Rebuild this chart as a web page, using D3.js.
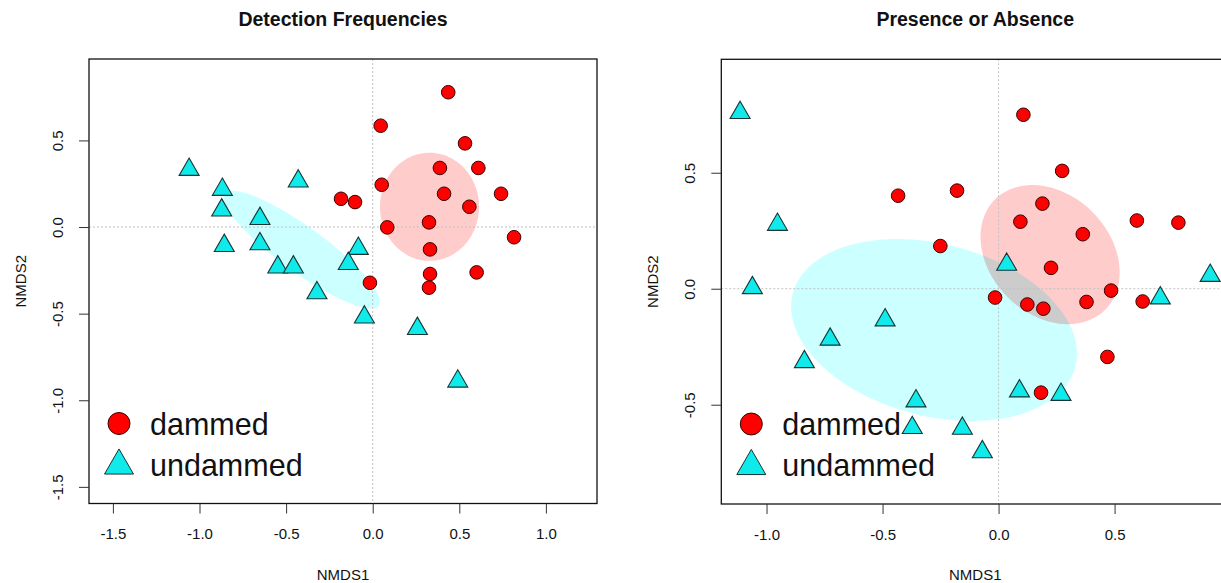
<!DOCTYPE html>
<html>
    <head>
        <meta charset="utf-8">
        <script src="https://d3js.org/d3.v7.min.js"></script>
        <style>
            body {
                margin: 0;
                background: white;
            }
            text {
                font-family: "Liberation Sans", Arial, sans-serif;
                fill: #111;
            }
        </style>
    </head>
    <body>
    </body>
    <script>

        const width = 1221;
        const height = 583;

        // Detection Frequencies (NMDS1, NMDS2)
        var detDammed = [
            [0.436, 0.778], [0.046, 0.585], [0.533, 0.483], [0.388, 0.341], [0.610, 0.341],
            [0.052, 0.244], [0.412, 0.192], [0.741, 0.192], [0.558, 0.117], [-0.183, 0.163],
            [-0.102, 0.144], [0.084, -0.002], [0.325, 0.027], [0.816, -0.059], [0.331, -0.129],
            [0.331, -0.271], [0.325, -0.350], [0.600, -0.262], [-0.016, -0.322]
        ];
        var detUndammed = [
            [-1.060, 0.348], [-0.868, 0.233], [-0.872, 0.114], [-0.430, 0.281], [-0.651, 0.065],
            [-0.857, -0.091], [-0.651, -0.081], [-0.548, -0.215], [-0.458, -0.215], [-0.083, -0.108],
            [-0.141, -0.195], [-0.322, -0.364], [-0.048, -0.504], [0.258, -0.570], [0.491, -0.874]
        ];

        // Presence or Absence (NMDS1, NMDS2)
        var paDammed = [
            [-0.433, 0.401], [-0.179, 0.423], [-0.251, 0.184], [0.107, 0.750], [0.274, 0.508],
            [0.189, 0.367], [0.094, 0.289], [0.363, 0.235], [0.596, 0.294], [0.775, 0.285],
            [0.226, 0.090], [0.485, -0.008], [-0.015, -0.038], [0.124, -0.068], [0.193, -0.086],
            [0.379, -0.057], [0.621, -0.055], [0.469, -0.294], [0.183, -0.448]
        ];
        var paUndammed = [
            [-1.114, 0.771], [-0.953, 0.289], [-1.061, 0.016], [0.035, 0.117], [0.912, 0.069],
            [0.697, -0.028], [0.090, -0.429], [0.269, -0.444], [-0.156, -0.590], [-0.070, -0.691],
            [-0.489, -0.123], [-0.726, -0.206], [-0.837, -0.303], [-0.356, -0.472], [-0.372, -0.587]
        ];

        // ellipses: [cx, cy, semi axis a, semi axis b, angle in degrees]
        var detEllipseDammed = [0.328, 0.117, 0.286, 0.312, 0];
        var detEllipseUndammed = [-0.410, -0.130, 0.550, 0.130, -36];
        var paEllipseDammed = [0.222, 0.147, 0.336, 0.259, -45];
        var paEllipseUndammed = [-0.278, -0.178, 0.629, 0.371, -14.5];

        var detXTicks = [-1.5, -1.0, -0.5, 0.0, 0.5, 1.0];
        var detYTicks = [-1.5, -1.0, -0.5, 0.0, 0.5];
        var paXTicks = [-1.0, -0.5, 0.0, 0.5];
        var paYTicks = [-0.5, 0.0, 0.5];

        var groups = ['dammed', 'undammed'];

        var svg = d3.select('body')
            .append('svg')
            .attr('width', width)
            .attr('height', height);

        // R style labels, plain hyphen minus
        var fmt = d => d.toFixed(1);

        function triPath(s) {
            var h = s * Math.sqrt(3) / 2;
            return 'M0,' + (-h / 2) + 'L' + (s / 2) + ',' + (h / 2) + 'L' + (-s / 2) + ',' + (h / 2) + 'Z';
        }

        function ellipsePoints(e) {
            var pts = [];
            var th = e[4] * Math.PI / 180;
            for (let i = 0; i <= 120; i++) {
                let t = i / 120 * 2 * Math.PI;
                pts.push([
                    e[0] + e[2] * Math.cos(th) * Math.cos(t) - e[3] * Math.sin(th) * Math.sin(t),
                    e[1] + e[2] * Math.sin(th) * Math.cos(t) + e[3] * Math.cos(th) * Math.sin(t)
                ]);
            }
            return pts;
        }

        function drawPanel(p) {
            var x = d3.scaleLinear().domain(p.xDomain).range([p.left, p.right]);
            var y = d3.scaleLinear().domain(p.yDomain).range([p.bottom, p.top]);
            var g = svg.append('g');

            g.append('defs').append('clipPath').attr('id', p.id)
                .append('rect')
                .attr('x', p.left).attr('y', p.top)
                .attr('width', p.right - p.left).attr('height', p.bottom - p.top);

            var plot = g.append('g').attr('clip-path', 'url(#' + p.id + ')');
            var line = d3.line().x(d => x(d[0])).y(d => y(d[1])).curve(d3.curveLinearClosed);

            plot.append('path')
                .attr('d', line(ellipsePoints(p.ellUndammed)))
                .attr('fill', '#ccffff');
            plot.append('path')
                .attr('d', line(ellipsePoints(p.ellDammed)))
                .attr('fill', '#ffcccc')
                .style('mix-blend-mode', 'multiply');

            // dotted zero lines
            plot.append('line')
                .attr('x1', x(0)).attr('x2', x(0))
                .attr('y1', p.top).attr('y2', p.bottom)
                .style('stroke', '#c0c0c0').style('stroke-dasharray', '2,2');
            plot.append('line')
                .attr('x1', p.left).attr('x2', p.right)
                .attr('y1', y(0)).attr('y2', y(0))
                .style('stroke', '#c0c0c0').style('stroke-dasharray', '2,2');

            plot.selectAll('path.tri')
                .data(p.undammed)
                .enter()
                .append('path')
                .attr('class', 'tri')
                .attr('d', triPath(20))
                .attr('transform', d => 'translate(' + x(d[0]) + ',' + y(d[1]) + ')')
                .attr('fill', '#11eaea')
                .attr('stroke', '#183434')
                .attr('stroke-width', 1.1);

            plot.selectAll('circle')
                .data(p.dammed)
                .enter()
                .append('circle')
                .attr('cx', d => x(d[0]))
                .attr('cy', d => y(d[1]))
                .attr('r', 6.8)
                .attr('fill', '#ff0000')
                .attr('stroke', '#3a0000')
                .attr('stroke-width', 1);

            // box
            g.append('rect')
                .attr('x', p.left).attr('y', p.top)
                .attr('width', p.right - p.left).attr('height', p.bottom - p.top)
                .attr('fill', 'none')
                .attr('stroke', '#111')
                .attr('stroke-width', 1.3);

            // axes
            var xAxis = g.append('g')
                .attr('transform', 'translate(0,' + p.bottom + ')')
                .call(d3.axisBottom(x).tickValues(p.xTicks).tickSize(10).tickPadding(15).tickFormat(fmt));
            xAxis.select('.domain').remove();
            xAxis.selectAll('line').attr('stroke', '#333');
            xAxis.selectAll('text').style('font-size', '15px').attr('fill', '#222');

            var yAxis = g.append('g')
                .attr('transform', 'translate(' + p.left + ',0)')
                .call(d3.axisLeft(y).tickValues(p.yTicks).tickSize(10).tickFormat(fmt));
            yAxis.select('.domain').remove();
            yAxis.selectAll('line').attr('stroke', '#333');
            yAxis.selectAll('text')
                .style('font-size', '15px')
                .attr('fill', '#222')
                .attr('x', 0).attr('dy', 0)
                .attr('text-anchor', 'middle')
                .attr('transform', 'translate(-26,0) rotate(-90)');

            // titles
            var cx = (p.left + p.right) / 2;
            g.append('text')
                .attr('x', cx).attr('y', 26)
                .attr('text-anchor', 'middle')
                .style('font-weight', 'bold')
                .style('font-size', '19.5px')
                .text(p.title);
            g.append('text')
                .attr('x', cx).attr('y', 580)
                .attr('text-anchor', 'middle')
                .style('font-size', '15px')
                .attr('fill', '#222')
                .text('NMDS1');
            g.append('text')
                .attr('transform', 'translate(' + (p.left - 63) + ',' + ((p.top + p.bottom) / 2) + ') rotate(-90)')
                .attr('text-anchor', 'middle')
                .style('font-size', '15px')
                .attr('fill', '#222')
                .text('NMDS2');

            // legend
            var lg = g.append('g');
            var lx = p.left + 30;
            lg.append('circle')
                .attr('cx', lx).attr('cy', p.bottom - 80)
                .attr('r', 11)
                .attr('fill', '#ff0000')
                .attr('stroke', '#3a0000');
            lg.append('path')
                .attr('d', triPath(29))
                .attr('transform', 'translate(' + lx + ',' + (p.bottom - 42) + ')')
                .attr('fill', '#11eaea')
                .attr('stroke', '#183434');
            lg.selectAll('text.leg')
                .data(groups)
                .enter()
                .append('text')
                .attr('class', 'leg')
                .attr('x', lx + 31)
                .attr('y', (d, i) => p.bottom - 69 + i * 41)
                .style('font-size', '30.5px')
                .text(d => d);
        }

        drawPanel({
            id: 'clipDet',
            title: 'Detection Frequencies',
            left: 89, right: 597, top: 59, bottom: 503.5,
            xDomain: [-1.638, 1.295], yDomain: [-1.596, 0.970],
            xTicks: detXTicks, yTicks: detYTicks,
            dammed: detDammed, undammed: detUndammed,
            ellDammed: detEllipseDammed, ellUndammed: detEllipseUndammed
        });

        drawPanel({
            id: 'clipPa',
            title: 'Presence or Absence',
            left: 721.3, right: 1229.2, top: 59.3, bottom: 504,
            xDomain: [-1.195, 0.994], yDomain: [-0.928, 0.989],
            xTicks: paXTicks, yTicks: paYTicks,
            dammed: paDammed, undammed: paUndammed,
            ellDammed: paEllipseDammed, ellUndammed: paEllipseUndammed
        });

    </script>
</html>
